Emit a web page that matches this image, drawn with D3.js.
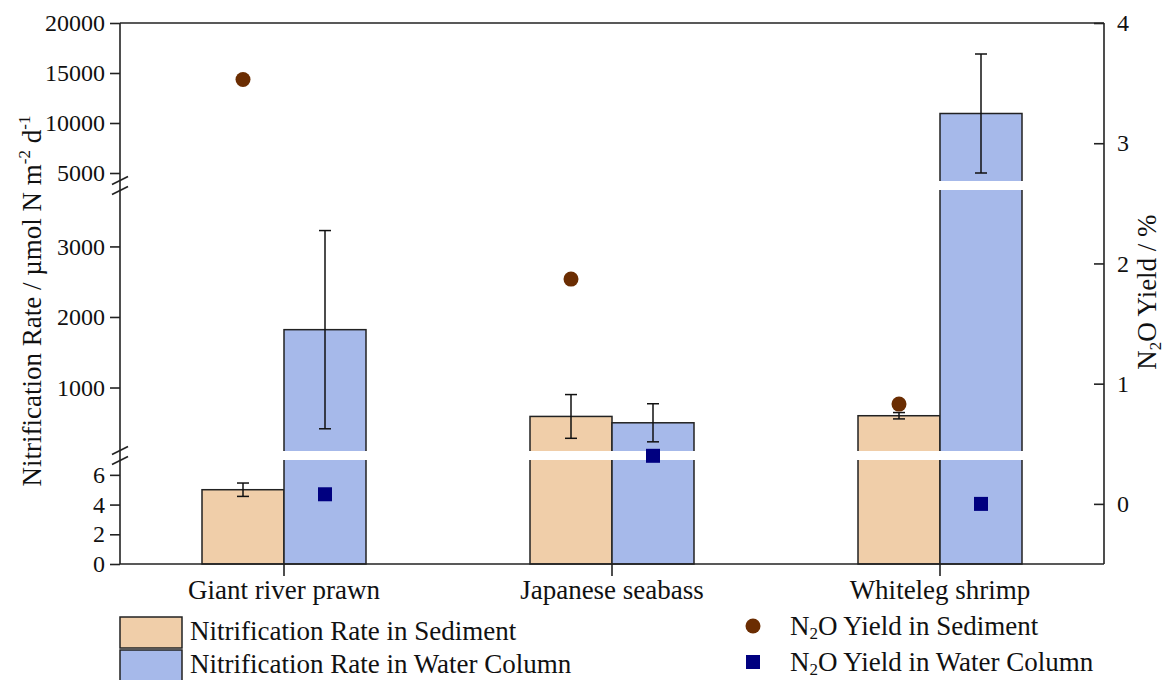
<!DOCTYPE html>
<html>
<head>
<meta charset="utf-8">
<script src="https://cdnjs.cloudflare.com/ajax/libs/d3/7.8.5/d3.min.js"></script>
<style>
  body { margin: 0; background: #fff; }
  svg text { fill: #111; }
</style>
</head>
<body>
<div id="chart"></div>
<script>
// data
const species = ["Giant river prawn", "Japanese seabass", "Whiteleg shrimp"];
const rateSediment = [5, 590, 600];
const rateSedimentErr = [0.45, 310, 45];
const rateWater = [1820, 500, 10950];
const rateWaterErr = [1405, 270, 5950];
const yieldSediment = [3.53, 1.87, 0.83];
const yieldWater = [0.08, 0.40, 0.0];

const lowTicks = [0, 2, 4, 6];
const midTicks = [1000, 2000, 3000];
const topTicks = [5000, 10000, 15000, 20000];
const rightTicks = [0, 1, 2, 3, 4];

const W = 1164, H = 680;
const margin = { top: 23, right: 60, bottom: 116, left: 120 };
const x0 = margin.left, x1 = W - margin.right, yTop = margin.top, yBot = H - margin.bottom;
const serif = "Liberation Serif, Tinos, Times New Roman, DejaVu Serif, serif";

const sedColor = "#F0CEA9", waterColor = "#A6B9EA";
const dotColor = "#6B2D02", sqColor = "#000080";

const svg = d3.select("#chart").append("svg")
    .attr("width", W)
    .attr("height", H)
    .style("font-family", serif);

// category scale, bars fill half of each band
const x = d3.scaleBand()
    .domain(species)
    .range([x0, x1])
    .paddingInner(0.5)
    .paddingOuter(0.25);
const bw = x.bandwidth() / 2;

// broken left axis: three pieces
const yLow = d3.scaleLinear().domain([0, 7]).range([yBot, 460]);
const yMid = d3.scaleLinear().domain([100, 3800]).range([451, 190]);
const yHigh = d3.scaleLinear().domain([4200, 20000]).range([181, yTop]);
const gaps = [[451, 460], [181, 190]];

function yL(v) {
    if (v <= 7) return yLow(v);
    if (v <= 3800) return yMid(v);
    return yHigh(v);
}

const yR = d3.scaleLinear().domain([-0.5, 4]).range([yBot, yTop]);

// bars
const barData = [];
species.forEach((s, i) => {
    barData.push({ s: s, x: x(s), v: rateSediment[i], e: rateSedimentErr[i], c: sedColor });
    barData.push({ s: s, x: x(s) + bw, v: rateWater[i], e: rateWaterErr[i], c: waterColor });
});

svg.append("g")
    .selectAll("rect")
    .data(barData)
    .enter()
    .append("rect")
    .attr("x", d => d.x)
    .attr("y", d => yL(d.v))
    .attr("width", bw)
    .attr("height", d => yBot - yL(d.v))
    .attr("fill", d => d.c)
    .attr("stroke", "#222")
    .attr("stroke-width", 1.5);

// white gaps where the bars cross an axis break
barData.forEach(d => {
    gaps.forEach(g => {
        if (yL(d.v) < g[0]) {
            svg.append("rect")
                .attr("x", d.x - 2)
                .attr("y", g[0])
                .attr("width", bw + 4)
                .attr("height", g[1] - g[0])
                .attr("fill", "#fff");
        }
    });
});

// error bars
const eg = svg.append("g").attr("stroke", "#111").attr("stroke-width", 1.5);
barData.forEach(d => {
    const cx = d.x + bw / 2;
    const ya = yL(d.v + d.e), yb = yL(d.v - d.e);
    eg.append("line").attr("x1", cx).attr("x2", cx).attr("y1", ya).attr("y2", yb);
    eg.append("line").attr("x1", cx - 6).attr("x2", cx + 6).attr("y1", ya).attr("y2", ya);
    eg.append("line").attr("x1", cx - 6).attr("x2", cx + 6).attr("y1", yb).attr("y2", yb);
});

// N2O yield points
svg.append("g")
    .selectAll("circle")
    .data(species)
    .enter()
    .append("circle")
    .attr("cx", d => x(d) + bw / 2)
    .attr("cy", (d, i) => yR(yieldSediment[i]))
    .attr("r", 7.5)
    .attr("fill", dotColor);

svg.append("g")
    .selectAll("rect")
    .data(species)
    .enter()
    .append("rect")
    .attr("x", d => x(d) + bw * 1.5 - 7)
    .attr("y", (d, i) => yR(yieldWater[i]) - 7)
    .attr("width", 14)
    .attr("height", 14)
    .attr("fill", sqColor);

// frame lines
const frame = svg.append("g").attr("stroke", "#222").attr("stroke-width", 1.6);
frame.append("line").attr("x1", x0).attr("x2", x1).attr("y1", yTop).attr("y2", yTop);
frame.append("line").attr("x1", x0).attr("x2", x1).attr("y1", yBot).attr("y2", yBot);
frame.append("line").attr("x1", x0).attr("x2", x0).attr("y1", yTop).attr("y2", yBot);
frame.append("line").attr("x1", x1).attr("x2", x1).attr("y1", yTop).attr("y2", yBot);

// left axis pieces
function leftAxis(scale, ticks) {
    const g = svg.append("g")
        .attr("transform", `translate(${x0},0)`)
        .call(d3.axisLeft(scale).tickValues(ticks).tickSize(10).tickPadding(5).tickFormat(d3.format("d")));
    g.attr("font-family", null);
    g.select(".domain").remove();
    g.selectAll(".tick line").attr("stroke", "#222").attr("stroke-width", 1.6);
    g.selectAll(".tick text").style("font-size", "24px").style("font-family", serif).attr("fill", "#111");
}
leftAxis(yLow, lowTicks);
leftAxis(yMid, midTicks);
leftAxis(yHigh, topTicks);

// break marks on the left axis
gaps.forEach(g => {
    const m = (g[0] + g[1]) / 2;
    [-5, 5].forEach(o => {
        svg.append("line")
            .attr("x1", x0 - 8).attr("y1", m + o + 4)
            .attr("x2", x0 + 8).attr("y2", m + o - 4)
            .attr("stroke", "#222").attr("stroke-width", 1.6);
    });
});

// right axis
const ra = svg.append("g")
    .attr("transform", `translate(${x1},0)`)
    .call(d3.axisRight(yR).tickValues(rightTicks).tickSize(-10).tickPadding(13).tickFormat(d3.format("d")));
ra.attr("font-family", null);
ra.select(".domain").remove();
ra.selectAll(".tick line").attr("stroke", "#222").attr("stroke-width", 1.6);
ra.selectAll(".tick text").style("font-size", "24px").style("font-family", serif).attr("fill", "#111");

// bottom axis
const ba = svg.append("g")
    .attr("transform", `translate(0,${yBot})`)
    .call(d3.axisBottom(x).tickSize(12).tickPadding(4));
ba.attr("font-family", null);
ba.select(".domain").remove();
ba.selectAll(".tick line").attr("stroke", "#222").attr("stroke-width", 1.6);
ba.selectAll(".tick text").style("font-size", "27px").style("font-family", serif).attr("fill", "#111");

// axis titles
const lt = svg.append("text")
    .attr("transform", "translate(41,301) rotate(-90)")
    .attr("text-anchor", "middle")
    .style("font-size", "27px");
lt.append("tspan").text("Nitrification Rate / \u00b5mol N m");
lt.append("tspan").attr("dy", -11).style("font-size", "17px").text("-2");
lt.append("tspan").attr("dy", 11).text(" d");
lt.append("tspan").attr("dy", -11).style("font-size", "17px").text("-1");

const rt = svg.append("text")
    .attr("transform", "translate(1156,292) rotate(-90)")
    .attr("text-anchor", "middle")
    .style("font-size", "27px");
rt.append("tspan").text("N");
rt.append("tspan").attr("dy", 5).style("font-size", "17px").text("2");
rt.append("tspan").attr("dy", -5).text("O Yield / %");

// legend
const legBars = [
    { label: "Nitrification Rate in Sediment", c: sedColor },
    { label: "Nitrification Rate in Water Column", c: waterColor }
];
legBars.forEach((d, i) => {
    const y = 617 + i * 33;
    svg.append("rect")
        .attr("x", 120).attr("y", y).attr("width", 62).attr("height", 31)
        .attr("fill", d.c).attr("stroke", "#222").attr("stroke-width", 1.5);
    svg.append("text")
        .attr("x", 190).attr("y", y + 23)
        .style("font-size", "27px")
        .text(d.label);
});

const legPts = ["Sediment", "Water Column"];
legPts.forEach((d, i) => {
    const y = 626 + i * 36;
    if (i === 0) {
        svg.append("circle").attr("cx", 753).attr("cy", y).attr("r", 7.5).attr("fill", dotColor);
    } else {
        svg.append("rect").attr("x", 746).attr("y", y - 7).attr("width", 14).attr("height", 14).attr("fill", sqColor);
    }
    const t = svg.append("text")
        .attr("x", 790).attr("y", y + 9)
        .style("font-size", "27px");
    t.append("tspan").text("N");
    t.append("tspan").attr("dy", 4).style("font-size", "17px").text("2");
    t.append("tspan").attr("dy", -4).text("O Yield in " + d);
});
</script>
</body>
</html>
